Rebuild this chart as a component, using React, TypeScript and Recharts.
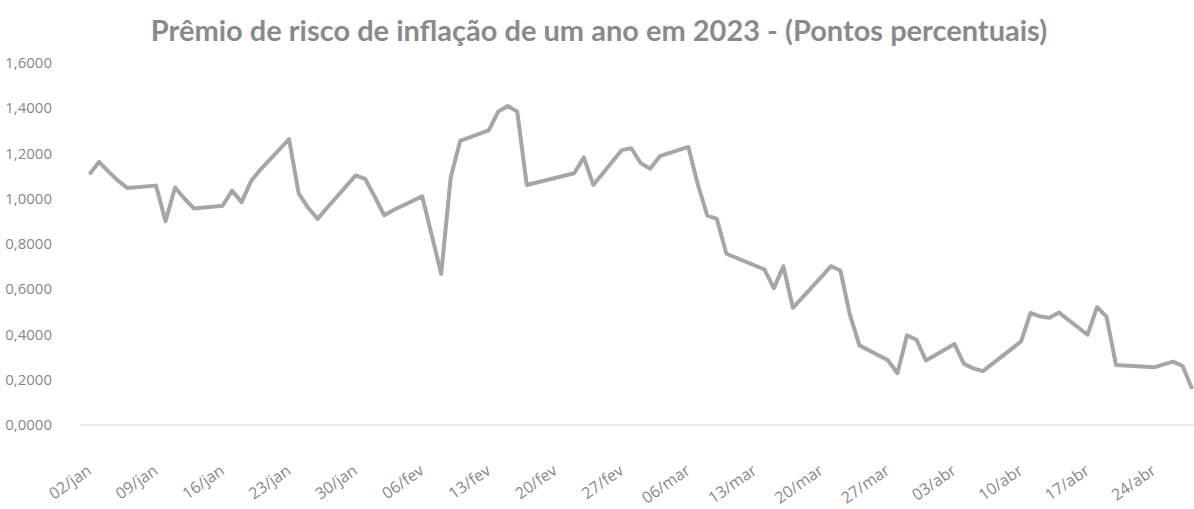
import { LineChart, Line, XAxis, YAxis } from "recharts";

// business days of 2023 (no trading on 20-21/fev, 07/abr, 21/abr)
const dates = [
  "2023-01-02", "2023-01-03", "2023-01-04", "2023-01-05", "2023-01-06",
  "2023-01-09", "2023-01-10", "2023-01-11", "2023-01-12", "2023-01-13",
  "2023-01-16", "2023-01-17", "2023-01-18", "2023-01-19", "2023-01-20",
  "2023-01-23", "2023-01-24", "2023-01-25", "2023-01-26", "2023-01-27",
  "2023-01-30", "2023-01-31", "2023-02-01", "2023-02-02", "2023-02-03",
  "2023-02-06", "2023-02-07", "2023-02-08", "2023-02-09", "2023-02-10",
  "2023-02-13", "2023-02-14", "2023-02-15", "2023-02-16", "2023-02-17",
  "2023-02-22", "2023-02-23", "2023-02-24",
  "2023-02-27", "2023-02-28", "2023-03-01", "2023-03-02", "2023-03-03",
  "2023-03-06", "2023-03-07", "2023-03-08", "2023-03-09", "2023-03-10",
  "2023-03-13", "2023-03-14", "2023-03-15", "2023-03-16", "2023-03-17",
  "2023-03-20", "2023-03-21", "2023-03-22", "2023-03-23", "2023-03-24",
  "2023-03-27", "2023-03-28", "2023-03-29", "2023-03-30", "2023-03-31",
  "2023-04-03", "2023-04-04", "2023-04-05", "2023-04-06",
  "2023-04-10", "2023-04-11", "2023-04-12", "2023-04-13", "2023-04-14",
  "2023-04-17", "2023-04-18", "2023-04-19", "2023-04-20",
  "2023-04-24", "2023-04-25", "2023-04-26", "2023-04-27", "2023-04-28",
];

// one-year inflation risk premium, percentage points
const premium = [
  1.108, 1.163, 1.12, 1.08, 1.047,
  1.058, 0.901, 1.05, 1.0, 0.957,
  0.969, 1.036, 0.985, 1.078, 1.13,
  1.263, 1.025, 0.96, 0.911, 0.96,
  1.103, 1.088, 1.01, 0.927, 0.95,
  1.011, 0.84, 0.668, 1.094, 1.256,
  1.302, 1.385, 1.41, 1.385, 1.061,
  1.113, 1.183, 1.061,
  1.215, 1.223, 1.157, 1.133, 1.188,
  1.229, 1.063, 0.925, 0.911, 0.757,
  0.705, 0.688, 0.605, 0.701, 0.518,
  0.655, 0.702, 0.683, 0.487, 0.352,
  0.286, 0.229, 0.396, 0.377, 0.285,
  0.358, 0.27, 0.25, 0.238,
  0.369, 0.495, 0.48, 0.474, 0.497,
  0.399, 0.521, 0.478, 0.265,
  0.255, 0.268, 0.28, 0.261, 0.159,
];

const weekLabels = [
  "02/jan", "09/jan", "16/jan", "23/jan", "30/jan", "06/fev", "13/fev",
  "20/fev", "27/fev", "06/mar", "13/mar", "20/mar", "27/mar", "03/abr",
  "10/abr", "17/abr", "24/abr",
];

const yTicks = [0, 0.2, 0.4, 0.6, 0.8, 1.0, 1.2, 1.4, 1.6];

const DAY = 24 * 3600 * 1000;
const start = Date.UTC(2023, 0, 2);
const toDay = (iso: string) => {
  const [y, m, d] = iso.split("-").map(Number);
  return Math.round((Date.UTC(y, m - 1, d) - start) / DAY);
};

const data = dates.map((iso, i) => ({ day: toDay(iso), value: premium[i] }));
const xTicks = weekLabels.map((_, i) => i * 7);

const FONT = "'Open Sans', sans-serif";
const LABEL = "#888888";

const fmt = (v: number) => v.toFixed(4).replace(".", ",");

function XTick({ x, y, payload }: any) {
  const ax = x + 3;
  const ay = y + 40;
  return (
    <text
      x={ax}
      y={ay}
      transform={`rotate(-35, ${ax}, ${ay})`}
      textAnchor="end"
      fontSize={16}
      fontFamily={FONT}
      fill={LABEL}
    >
      {weekLabels[Math.round(payload.value / 7)]}
    </text>
  );
}

function YTick({ x, y, payload }: any) {
  return (
    <text
      x={x - 20}
      y={y}
      dy={5}
      textAnchor="end"
      fontSize={15}
      fontFamily={FONT}
      fill={LABEL}
    >
      {fmt(payload.value)}
    </text>
  );
}

export default function App() {
  return (
    <div
      style={{
        position: "absolute",
        left: 0,
        top: 0,
        width: 1194,
        height: 509,
        background: "#fff",
        overflow: "hidden",
      }}
    >
      <div
        style={{
          position: "absolute",
          left: 0,
          top: 12,
          width: 1198,
          textAlign: "center",
          fontFamily: "Lato, sans-serif",
          fontWeight: 700,
          fontSize: 29,
          color: "#8a8a8a",
        }}
      >
        Prêmio de risco de inflação de um ano em 2023 - (Pontos percentuais)
      </div>
      <LineChart
        width={1194}
        height={509}
        data={data}
        margin={{ top: 63, right: 0, bottom: 0, left: 0 }}
      >
        <XAxis
          type="number"
          dataKey="day"
          domain={[-1, 116.2]}
          ticks={xTicks}
          interval={0}
          tick={<XTick />}
          tickLine={false}
          axisLine={{ stroke: "#d9d9d9", strokeWidth: 1 }}
          height={84}
          allowDataOverflow
        />
        <YAxis
          type="number"
          domain={[0, 1.6]}
          ticks={yTicks}
          interval={0}
          tick={<YTick />}
          tickLine={false}
          axisLine={false}
          width={80}
        />
        <Line
          type="linear"
          dataKey="value"
          stroke="#a6a6a6"
          strokeWidth={4}
          strokeLinejoin="round"
          dot={false}
          isAnimationActive={false}
        />
      </LineChart>
    </div>
  );
}
